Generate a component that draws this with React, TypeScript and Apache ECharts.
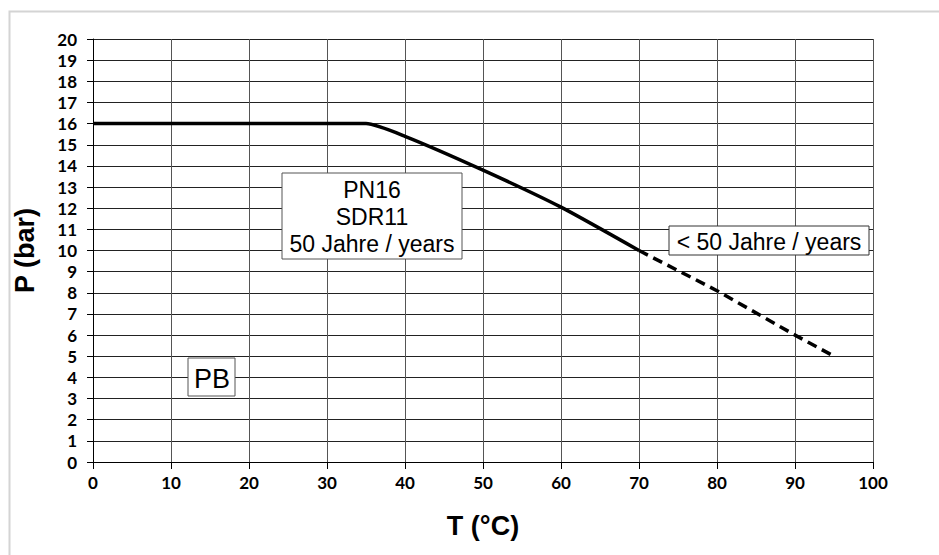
import React, { useEffect, useRef } from "react";
import * as echarts from "echarts";

const solidData: [number, number][] = [
  [0, 16], [35, 16], [40, 15.4], [50, 13.8], [60, 12.05], [70, 10],
];
const dashedData: [number, number][] = [
  [70, 10], [80, 8.1], [90, 6], [95, 5],
];
const boxMainLines = ["PN16", "SDR11", "50 Jahre / years"];
const boxShortLabel = "< 50 Jahre / years";
const materialLabel = "PB";
const xTitle = "T (°C)";
const yTitle = "P (bar)";

export default function App() {
  const ref = useRef<HTMLDivElement>(null);
  useEffect(() => {
    const chart = echarts.init(ref.current!, null, { renderer: "svg" });
    const labelFont = { fontFamily: "Lato, 'Liberation Sans', sans-serif", fontWeight: "bold" as const, fontSize: 17, color: "#000" };
    const boxFont = "'Liberation Sans', Arial, sans-serif";
    chart.setOption({
      animation: false,
      backgroundColor: "#fff",
      grid: { left: 93, right: 66, top: 39, bottom: 93 },
      xAxis: {
        type: "value", min: 0, max: 100, interval: 10,
        axisLine: { show: true, lineStyle: { color: "#000", width: 1 } },
        axisTick: { show: true, length: 7, lineStyle: { color: "#000" } },
        axisLabel: { ...labelFont, margin: 12 },
        splitLine: { show: true, lineStyle: { color: "#555", width: 1 } },
        name: xTitle, nameLocation: "middle", nameGap: 50,
        nameTextStyle: { fontFamily: boxFont, fontWeight: "bold", fontSize: 27, color: "#000" },
      },
      yAxis: {
        type: "value", min: 0, max: 20, interval: 1,
        axisLine: { show: true, lineStyle: { color: "#000", width: 1 } },
        axisTick: { show: true, length: 6, lineStyle: { color: "#000" } },
        axisLabel: { ...labelFont, margin: 16 },
        splitLine: { show: true, lineStyle: { color: "#222", width: 1 } },
        name: yTitle, nameLocation: "middle", nameGap: 55, nameRotate: 90,
        nameTextStyle: { fontFamily: boxFont, fontWeight: "bold", fontSize: 27, color: "#000" },
      },
      series: [
        {
          type: "line", data: solidData, symbol: "none", smooth: 0.2,
          lineStyle: { color: "#000", width: 3.5 }, z: 5,
        },
        {
          type: "line", data: dashedData, symbol: "none",
          lineStyle: { color: "#000", width: 3.5, type: [10, 6] }, z: 5,
        },
      ],
      graphic: [
        {
          type: "rect", left: 7, top: 9, shape: { width: 940, height: 560 },
          style: { fill: "none", stroke: "#d4d4d4", lineWidth: 2 }, silent: true, z: -10,
        },
        {
          type: "rect", x: 282, y: 173, shape: { width: 180, height: 86 },
          style: { fill: "#fff", stroke: "#555", lineWidth: 1 }, z: 10,
        },
        {
          type: "text", x: 372, y: 217, z: 11,
          style: {
            text: boxMainLines.join("\n"), align: "center", verticalAlign: "middle",
            fontFamily: boxFont, fontSize: 23, lineHeight: 27, fill: "#000",
          },
        },
        {
          type: "rect", x: 669, y: 226, shape: { width: 200, height: 29 },
          style: { fill: "#fff", stroke: "#333", lineWidth: 1 }, z: 10,
        },
        {
          type: "text", x: 769, y: 242, z: 11,
          style: {
            text: boxShortLabel, align: "center", verticalAlign: "middle",
            fontFamily: boxFont, fontSize: 23, fill: "#000",
          },
        },
        {
          type: "rect", x: 188, y: 358, shape: { width: 47, height: 38 },
          style: { fill: "#fff", stroke: "#555", lineWidth: 1 }, z: 10,
        },
        {
          type: "text", x: 212, y: 379, z: 11,
          style: {
            text: materialLabel, align: "center", verticalAlign: "middle",
            fontFamily: boxFont, fontSize: 27, fill: "#000",
          },
        },
      ],
    });
    return () => chart.dispose();
  }, []);
  return <div ref={ref} style={{ width: 939, height: 555, position: "absolute", left: 0, top: 0 }} />;
}
